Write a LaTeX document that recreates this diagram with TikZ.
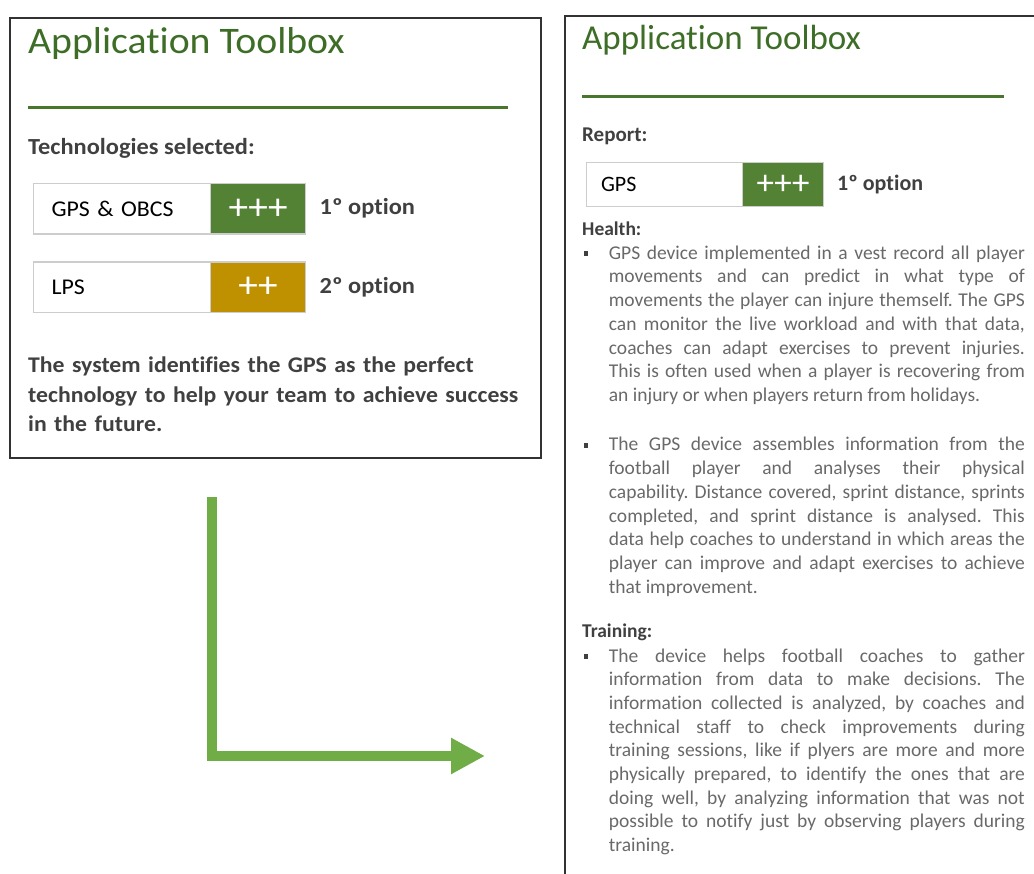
\documentclass[tikz,border=0pt]{standalone}
\usepackage{fontspec}
\setmainfont{Carlito}[Ligatures=NoCommon]
\newfontfamily\widefont{Carlito}[FakeStretch=1.06, Ligatures=NoCommon]
\usepackage{xcolor}
\definecolor{titlegreen}{RGB}{61,109,38}
\definecolor{rulegreen}{RGB}{72,118,45}
\definecolor{scoregreen}{RGB}{84,130,53}
\definecolor{scoregold}{RGB}{191,144,0}
\definecolor{arrowgreen}{RGB}{112,173,71}
\definecolor{framegray}{RGB}{50,50,50}
\definecolor{boxgray}{RGB}{205,205,205}
\definecolor{headgray}{RGB}{64,64,64}
\definecolor{bodygray}{RGB}{105,105,105}
\usepackage{tikz}
\usetikzlibrary{positioning, arrows.meta}
\setlength{\parindent}{0pt}
\hbadness=10000
\hfuzz=30pt
\newcommand{\fullline}[1]{\leavevmode\hbox to 416pt{\spaceskip=0pt\xspaceskip=0pt #1}}
\tikzstyle{panelframe} = [
    rectangle, anchor=north west,
    draw=framegray, line width=1.6pt,
]
\tikzstyle{toolboxtitle} = [
    anchor=base west, inner sep=0pt,
    text=titlegreen,
]
\tikzstyle{heading} = [
    anchor=base west, inner sep=0pt,
    text=headgray,
]
\tikzstyle{namebox} = [
    rectangle, anchor=north west,
    draw=boxgray, line width=1.2pt, fill=white,
    inner ysep=0pt, align=left,
]
\tikzstyle{scorebox} = [
    rectangle, anchor=north west,
    draw=boxgray, line width=1.2pt,
    inner sep=0pt, text=white,
]
\tikzstyle{bodytext} = [
    anchor=base west, inner sep=0pt,
    text width=416pt, align=justify,
    font=\fontsize{19.5}{23.7}\selectfont,
    text=bodygray,
]
\tikzstyle{bulletmark} = [
    rectangle, fill=headgray,
    minimum size=4.5pt, inner sep=0pt,
]
\tikzstyle{turnarrow} = [
    -{Triangle[length=34pt,width=34pt]},
    line width=10.5pt, draw=arrowgreen, line join=miter,
]

\begin{document}
\frenchspacing
\begin{tikzpicture}[x=1pt,y=-1pt]
    \useasboundingbox (0,0) rectangle (1034,874);
    \clip (0,0) rectangle (1034,874);

    % left panel
    \node[panelframe, minimum width=531pt, minimum height=440pt] (leftpanel) at (9,17) {};
    \node[toolboxtitle, font=\widefont\fontsize{37.5}{40}\selectfont] (lefttitle) at (28,54) {Application Toolbox};
    \draw[rulegreen, line width=3.5pt] (28,107.5) -- (508,107.5);
    \node[heading, font=\widefont\bfseries\fontsize{23}{28}\selectfont] (selected) at (28,155) {Technologies selected:};
    \foreach \i/\tech/\score/\col/\rank/\y in {1/GPS \& OBCS/+++/scoregreen/1º/183, 2/LPS/++/scoregold/2º/261.5} {
        \node[namebox, text width=141pt, inner xsep=18pt, minimum height=50.5pt,
              font=\widefont\fontsize{22.5}{28}\selectfont] (tech\i) at (33,\y) {\tech};
        \node[scorebox, fill=\col, minimum width=95pt, minimum height=50.5pt,
              font=\widefont\fontsize{37}{40}\selectfont] (score\i) at (210,\y) {\score};
        \node[heading, font=\widefont\bfseries\fontsize{23}{28}\selectfont,
              anchor=west] (rank\i) at (319.5,\y+25.5) {\rank\ option};
    }
    \node[heading, anchor=base west, text width=505pt, align=left,
          font=\widefont\bfseries\fontsize{22.4}{29.5}\selectfont] (verdict) at (28,372.7)
        {The system identifies the GPS as the perfect\\
         technology to help your team to achieve success\\
         in the future.};

    % right panel
    \node[panelframe, minimum width=520pt, minimum height=900pt] (rightpanel) at (564,15) {};
    \node[toolboxtitle, font=\fontsize{35}{38}\selectfont] (righttitle) at (582,50) {Application Toolbox};
    \draw[rulegreen, line width=3.5pt] (582,96.7) -- (1004,96.7);
    \node[heading, font=\bfseries\fontsize{21}{25}\selectfont] (report) at (582,141.7) {Report:};
    \node[namebox, text width=126.5pt, inner xsep=15pt, minimum height=44pt,
          font=\fontsize{22}{26}\selectfont] (reporttech) at (585.5,162) {GPS};
    \node[scorebox, fill=scoregreen, minimum width=81pt, minimum height=44pt,
          font=\fontsize{35}{38}\selectfont] (reportscore) at (742,162) {+++};
    \node[heading, font=\bfseries\fontsize{22}{26}\selectfont, anchor=west] (reportrank) at (837,184.5) {1º option};

    \node[heading, font=\bfseries\fontsize{19.5}{23.7}\selectfont] (health) at (582,236) {Health:};
    \node[bodytext] (healthone) at (608.7,259.3)
        {\fullline{GPS device implemented in a vest record all player}\\
         \fullline{movements and can predict in what type of}\\
         \fullline{movements the player can injure themself. The GPS}\\
         \fullline{can monitor the live workload and with that data,}\\
         \fullline{coaches can adapt exercises to prevent injuries.}\\
         \fullline{This is often used when a player is recovering from}\\
         an injury or when players return from holidays.};
    \node[bodytext] (healthtwo) at (608.7,451)
        {\fullline{The GPS device assembles information from the}\\
         \fullline{football player and analyses their physical}\\
         \fullline{capability. Distance covered, sprint distance, sprints}\\
         \fullline{completed, and sprint distance is analysed. This}\\
         \fullline{data help coaches to understand in which areas the}\\
         \fullline{player can improve and adapt exercises to achieve}\\
         that improvement.};
    \node[heading, font=\bfseries\fontsize{19.5}{23.7}\selectfont] (training) at (582,637) {Training:};
    \node[bodytext] (trainingone) at (608.7,662)
        {\fullline{The device helps football coaches to gather}\\
         \fullline{information from data to make decisions. The}\\
         \fullline{information collected is analyzed, by coaches and}\\
         \fullline{technical staff to check improvements during}\\
         \fullline{training sessions, like if plyers are more and more}\\
         \fullline{physically prepared, to identify the ones that are}\\
         \fullline{doing well, by analyzing information that was not}\\
         \fullline{possible to notify just by observing players during}\\
         training.};
    \foreach \b/\y in {1/253.6, 2/445.3, 3/656.3} {
        \node[bulletmark] (bullet\b) at (586,\y) {};
    }

    % arrow
    \coordinate (turnstart) at (212,497.5);
    \coordinate (turnend) at (485,756);
    \draw[turnarrow] (turnstart) |- (turnend);

\end{tikzpicture}
\end{document}
